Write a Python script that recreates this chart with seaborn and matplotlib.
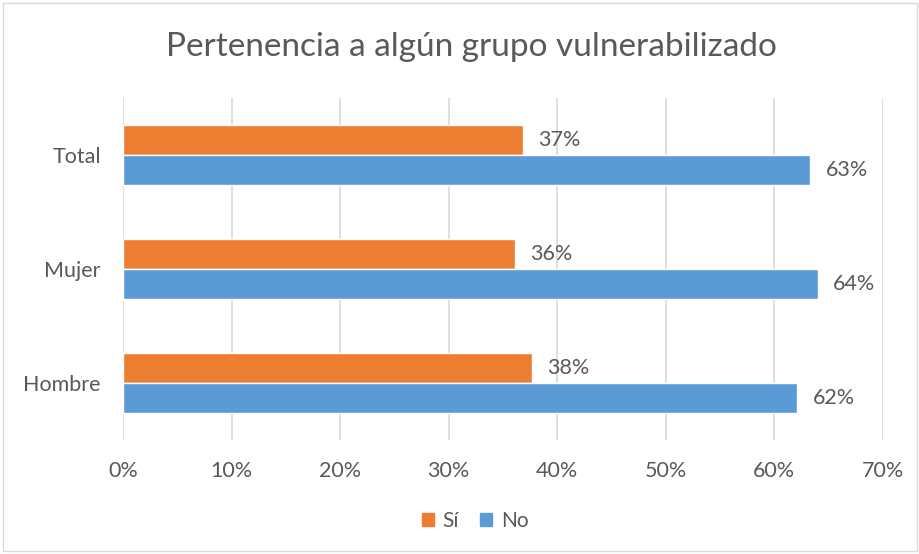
import numpy as np
import matplotlib
matplotlib.use("Agg")
import matplotlib.pyplot as plt
import matplotlib.patches as mpatches
import pandas as pd
import seaborn as sns

# data (percent)
groups = ["Total", "Mujer", "Hombre"]
answers = ["Sí", "No"]
si_values = [36.8, 36.1, 37.7]
no_values = [63.3, 64.0, 62.1]
x_ticks = [0, 10, 20, 30, 40, 50, 60, 70]

title = "Pertenencia a algún grupo vulnerabilizado"
colors = {"Sí": "#ED7D31", "No": "#5B9BD5"}
text_color = "#595959"
grid_color = "#D9D9D9"

df = pd.DataFrame({
    "grupo": groups * 2,
    "respuesta": ["Sí"] * len(groups) + ["No"] * len(groups),
    "valor": si_values + no_values,
})

sns.set_theme(style="white")
plt.rcParams["font.family"] = ["Lato", "DejaVu Sans"]

fig = plt.figure(figsize=(9.2, 5.54), dpi=100)
ax = fig.add_axes([123 / 920, 1 - 440 / 554, 760 / 920, 342 / 554])

sns.barplot(data=df, y="grupo", x="valor", hue="respuesta",
            order=groups, hue_order=answers, palette=colors,
            orient="h", width=0.53, saturation=1, ax=ax, legend=False)

for cont in ax.containers:
    ax.bar_label(cont, labels=[f"{v:.0f}%" for v in cont.datavalues],
                 padding=11, fontsize=15.5, color=text_color)

ax.set_xlim(0, 70)
ax.set_xticks(x_ticks)
ax.set_xticklabels([f"{t}%" for t in x_ticks])
ax.xaxis.grid(True, color=grid_color, linewidth=1.2)
ax.set_axisbelow(True)
for s in ax.spines.values():
    s.set_visible(False)
ax.tick_params(axis="both", length=0, labelsize=15.5, colors=text_color)
ax.tick_params(axis="y", pad=16)
ax.tick_params(axis="x", pad=15)
ax.set_xlabel("")
ax.set_ylabel("")

fig.text(471 / 920, 1 - 47 / 554, title, ha="center", va="center",
         fontsize=24, color=text_color)

handles = [mpatches.Patch(color=colors[a], label=a) for a in answers]
fig.legend(handles=handles, loc="center", bbox_to_anchor=(475 / 920, 1 - 521 / 554),
           ncol=2, frameon=False, fontsize=15, handlelength=0.6,
           handleheight=0.6, handletextpad=0.4, columnspacing=1.0,
           labelcolor=text_color)

border = mpatches.Rectangle((3 / 920, 3 / 554), 914 / 920, 548 / 554,
                            transform=fig.transFigure, fill=False,
                            edgecolor=grid_color, linewidth=1)
fig.patches.append(border)

fig.savefig("out.png", dpi=100)
